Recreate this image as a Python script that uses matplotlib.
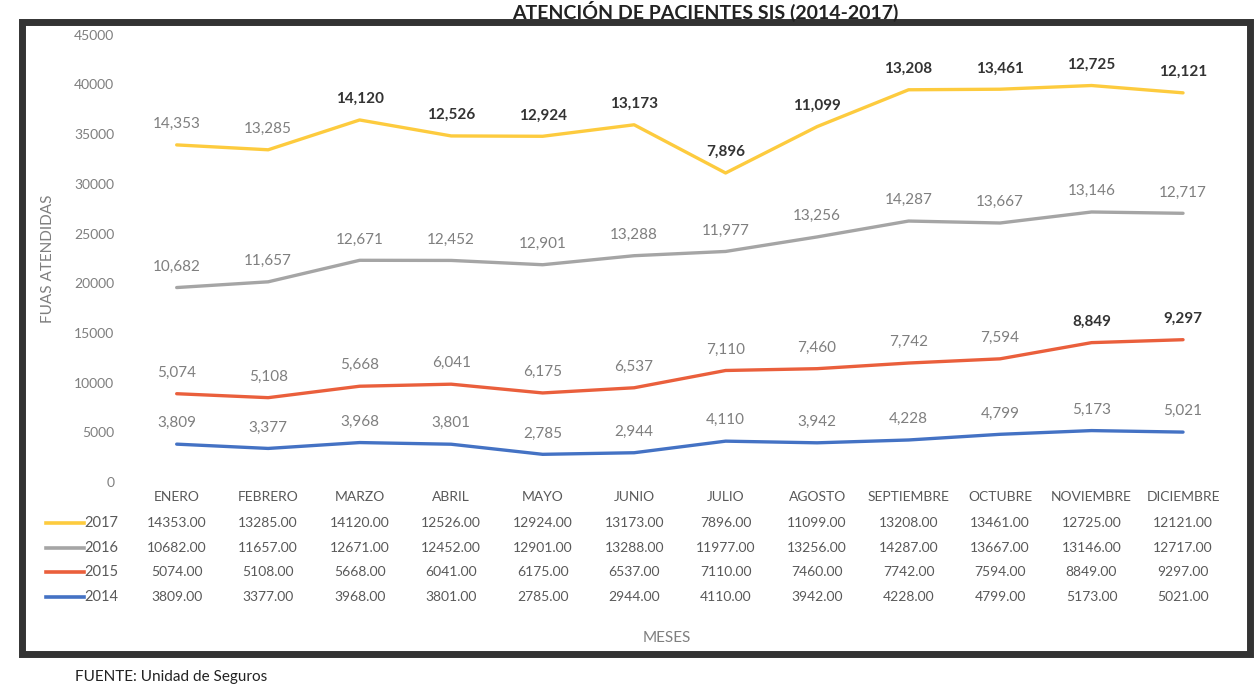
import numpy as np
import matplotlib
matplotlib.use("Agg")
import matplotlib.pyplot as plt
from matplotlib.patches import Rectangle

plt.rcParams['font.family'] = ['Lato', 'DejaVu Sans']

meses = ['ENERO', 'FEBRERO', 'MARZO', 'ABRIL', 'MAYO', 'JUNIO', 'JULIO',
         'AGOSTO', 'SEPTIEMBRE', 'OCTUBRE', 'NOVIEMBRE', 'DICIEMBRE']
anios = ['2014', '2015', '2016', '2017']
v2014 = [3809, 3377, 3968, 3801, 2785, 2944, 4110, 3942, 4228, 4799, 5173, 5021]
v2015 = [5074, 5108, 5668, 6041, 6175, 6537, 7110, 7460, 7742, 7594, 8849, 9297]
v2016 = [10682, 11657, 12671, 12452, 12901, 13288, 11977, 13256, 14287, 13667, 13146, 12717]
v2017 = [14353, 13285, 14120, 12526, 12924, 13173, 7896, 11099, 13208, 13461, 12725, 12121]
colores = ['#4472C4', '#EA5F3C', '#A5A5A5', '#FDCB3E']

series = [v2014, v2015, v2016, v2017]

fig = plt.figure(figsize=(12.59, 6.87), dpi=100)
ax = fig.add_axes([0.104, 0.2984, 0.872, 0.651])

x = np.arange(len(meses))
base = np.zeros(len(meses))
for i, (anio, vals) in enumerate(zip(anios, series)):
    top = base + np.array(vals)
    ax.plot(x, top, color=colores[i], lw=2.4, solid_capstyle='round')
    for j, v in enumerate(vals):
        col = '#7f7f7f'
        w = 'normal'
        if anio == '2017' and j >= 2:
            col = '#333333'
            w = 'bold'
        if anio == '2015' and j >= 10:
            col = '#333333'
            w = 'bold'
        ax.annotate(f'{v:,}', (x[j], top[j]), textcoords='offset points',
                    xytext=(0, 10), ha='center', va='bottom', fontsize=11,
                    color=col, fontweight=w)
    base = top

ax.set_xlim(-0.5, 11.5)
ax.set_ylim(0, 45000)
ax.set_yticks(np.arange(0, 45001, 5000))
ax.tick_params(axis='y', length=0, labelsize=10, labelcolor='#7f7f7f', pad=12)
ax.set_xticks([])
for s in ax.spines.values():
    s.set_visible(False)
ax.set_ylabel('FUAS ATENDIDAS', fontsize=11, color='#7f7f7f', labelpad=14)

# tabla de datos
trans = ax.get_xaxis_transform()
fy = lambda py: 1 - py / 687
for j, m in enumerate(meses):
    ax.text(x[j], (fy(497) - 0.2984) / 0.651, m, transform=trans, ha='center',
            va='center', fontsize=10, color='#595959')
filas = [('2017', v2017, 3, 523), ('2016', v2016, 2, 548),
         ('2015', v2015, 1, 572), ('2014', v2014, 0, 597)]
for nombre, vals, ci, py in filas:
    yy = (fy(py) - 0.2984) / 0.651
    for j, v in enumerate(vals):
        ax.text(x[j], yy, f'{v:.2f}', transform=trans, ha='center',
                va='center', fontsize=10, color='#595959')
    fig.text(118 / 1259, fy(py), nombre, ha='right', va='center',
             fontsize=10.5, color='#595959')
    fig.add_artist(plt.Line2D([46 / 1259, 84 / 1259], [fy(py), fy(py)],
                              color=colores[ci], lw=2.6))
fig.text(0.53, fy(638), 'MESES', ha='center', va='center', fontsize=11,
         color='#7f7f7f')

# titulo y fuente
fig.text(0.56, fy(1), 'ATENCIÓN DE PACIENTES SIS (2014-2017)', ha='center',
         va='top', fontsize=14, fontweight='bold', color='#222222')
fig.text(75 / 1259, fy(684), 'FUENTE: Unidad de Seguros', ha='left',
         va='bottom', fontsize=11, color='#222222')

# marco
fig.add_artist(Rectangle((22 / 1259, fy(654)), 1228 / 1259, (654 - 22) / 687,
                         transform=fig.transFigure, fill=False,
                         edgecolor='#333333', lw=5))

fig.savefig('out.png', dpi=100)
